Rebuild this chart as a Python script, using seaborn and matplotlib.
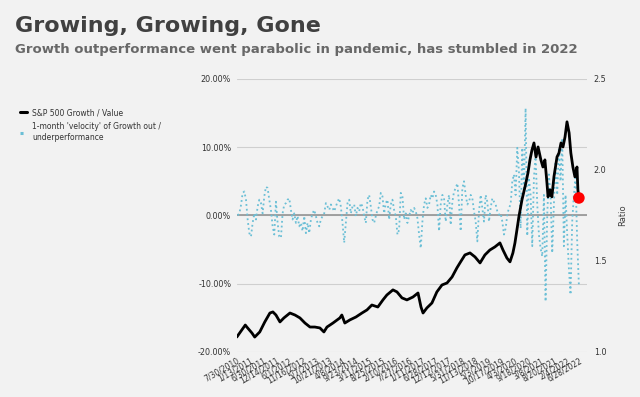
import matplotlib
matplotlib.use("Agg")
import matplotlib.pyplot as plt
import numpy as np
import pandas as pd
import seaborn as sns
from matplotlib.lines import Line2D
from matplotlib.ticker import FormatStrFormatter, PercentFormatter


TITLE = "Growing, Growing, Gone"
SUBTITLE = "Growth outperformance went parabolic in pandemic, has stumbled in 2022"

RATIO_LABEL = "S&P 500 Growth / Value"
VELOCITY_LABEL = "1-month 'velocity' of Growth out /\nunderperformance"

# Growth / Value ratio
ratio_dates = [
    "2010-07-30", "2010-11-15", "2010-12-05", "2011-02-08", "2011-03-15",
    "2011-05-18", "2011-07-21", "2011-09-24", "2011-11-01", "2011-12-10",
    "2012-01-30", "2012-03-20", "2012-06-05", "2012-08-08", "2012-10-10",
    "2012-12-13", "2013-02-15", "2013-04-18", "2013-06-21", "2013-08-11",
    "2013-09-19", "2013-12-04", "2014-03-02", "2014-03-27", "2014-05-04",
    "2014-07-07", "2014-09-22", "2014-12-08", "2015-02-10", "2015-04-13",
    "2015-06-28", "2015-09-01", "2015-10-21", "2016-01-06", "2016-02-26",
    "2016-04-30", "2016-07-02", "2016-09-17", "2016-11-20", "2016-12-28",
    "2017-01-23", "2017-03-13", "2017-05-16", "2017-07-18", "2017-09-21",
    "2017-11-24", "2018-01-27", "2018-03-30", "2018-05-07", "2018-07-10",
    "2018-09-12", "2018-11-15", "2019-01-18", "2019-03-21", "2019-05-23",
    "2019-07-26", "2019-09-28", "2019-11-06", "2019-12-26", "2020-02-03",
    "2020-03-11", "2020-04-06", "2020-05-01", "2020-05-26", "2020-07-04",
    "2020-08-12", "2020-09-19", "2020-10-14", "2020-11-09", "2020-12-04",
    "2020-12-30", "2021-01-25", "2021-03-02", "2021-03-28", "2021-04-22",
    "2021-05-18", "2021-06-01", "2021-06-25", "2021-07-20", "2021-08-15",
    "2021-09-23", "2021-10-18", "2021-11-13", "2021-12-08", "2022-01-03",
    "2022-01-28", "2022-02-24", "2022-03-18", "2022-04-13", "2022-05-09",
    "2022-06-04", "2022-06-16", "2022-06-28",
]
ratio_values = [
    1.082, 1.148, 1.137, 1.104, 1.082,
    1.110, 1.165, 1.214, 1.220, 1.203,
    1.165, 1.187, 1.214, 1.203, 1.187,
    1.159, 1.137, 1.137, 1.132, 1.110,
    1.137, 1.159, 1.187, 1.203, 1.159,
    1.176, 1.192, 1.214, 1.231, 1.258,
    1.247, 1.286, 1.313, 1.341, 1.330,
    1.297, 1.286, 1.302, 1.324, 1.247,
    1.214, 1.242, 1.269, 1.330, 1.368,
    1.379, 1.412, 1.462, 1.489, 1.533,
    1.544, 1.522, 1.489, 1.533, 1.560,
    1.577, 1.599, 1.560, 1.516, 1.495,
    1.544, 1.599, 1.670, 1.742, 1.835,
    1.907, 1.984, 2.055, 2.110, 2.148,
    2.071, 2.126, 2.055, 2.016, 2.055,
    1.929, 1.852, 1.890, 1.852, 1.962,
    2.071, 2.093, 2.148, 2.126, 2.181,
    2.264, 2.203, 2.093, 2.016, 1.962,
    2.016, 1.890, 1.846,
]

# 1-month velocity (%), read at evenly spaced points between the two dates
velocity_start = "2010-08-10"
velocity_end = "2022-06-28"
velocity_values = [
    0.0, 0.3, 1.5, 3.3, 3.5, 2.3, -0.6, -2.6, -3.1, -1.1,
    0.3, -0.6, 1.3, 2.3, 1.8, 0.3, 2.8, 4.2, 4.0, 2.3,
    0.8, -1.6, -2.8, 2.0, -1.1, -3.1, -3.3, 0.3, 1.6, 1.8,
    2.3, 2.5, 0.8, -0.6, 0.3, -1.1, -0.1, -1.6, -1.1, -2.3,
    -0.1, -2.6, -1.1, -2.6, -0.6, 0.3, 0.8, -0.1, -1.1, -1.6,
    -0.6, -0.1, 0.3, 1.8, 1.3, 0.8, 1.6, 1.1, 0.6, 1.3,
    2.0, 2.5, 1.3, -1.1, -4.0, -1.1, 1.8, 2.3, 0.3, 1.3,
    1.6, -0.1, 1.1, 0.6, 1.8, 1.3, -0.1, -1.1, 2.3, 3.0,
    1.3, -0.6, -1.1, -0.1, 0.8, 1.3, 3.3, 2.8, 0.3, 1.8,
    2.3, -0.6, 1.6, 2.3, 0.8, -0.1, -2.8, -2.1, 3.3, 2.8,
    -0.6, 0.3, -1.1, -0.1, 0.8, 0.3,
    1.1, 0.6, -0.4, -2.8, -4.8, -0.9, 1.6, 2.5, 1.1, 1.6,
    3.0, 2.5, 3.5, 3.0, 1.6, -2.3, 1.6, 3.0, 2.5, -0.9,
    1.6, 3.0, -1.4, 2.0, 3.5, 4.0, 4.7, 1.6, -2.3, 4.0,
    5.0, 3.0, 1.6, 2.0, 3.0, 2.5, 0.6, -0.9, -3.8, 0.6,
    3.0, 1.1, -0.9, 3.0, 2.0, -0.9, 1.1, 2.5, 2.0, 1.6,
    0.6, 0.1, 0.3, -0.9, -2.8, -1.9, 0.1, 1.1, 1.6, 5.0,
    6.0, 3.0, 9.9, 6.4, -1.9, 9.9, 4.0, 15.7, -3.0, 5.5,
    3.0, -4.5, 5.5, 8.9, 1.6, -2.8, -4.8, -6.0, 3.0, -12.6,
    0.1, 6.0, 3.0, -5.5, 1.6, 7.9, 3.0, 9.9, 5.0, 11.3,
    -4.5, 3.0, -2.8, -7.7, -11.6, -0.9, 3.0, 5.5, -3.8, -10.1,
]

tick_labels = [
    "7/30/2010", "1/13/2011", "6/30/2011", "12/14/2011", "6/1/2012",
    "11/16/2012", "5/7/2013", "10/21/2013", "4/8/2014", "9/23/2014",
    "3/11/2015", "8/25/2015", "2/10/2016", "7/27/2016", "1/11/2017",
    "6/28/2017", "12/12/2017", "5/31/2018", "11/13/2018", "5/3/2019",
    "10/17/2019", "4/3/2020", "9/18/2020", "3/8/2021", "8/20/2021",
    "2/4/2022", "6/28/2022",
]

BACKGROUND = "#f2f2f2"
TEXT_DARK = "#404040"
TEXT_SUB = "#686868"
VELOCITY_COLOR = "#6bbfd6"


def build_frames() -> tuple[pd.DataFrame, pd.DataFrame]:
    """
    Put the read values into small data frames.
    """
    ratio_df = pd.DataFrame(
        {"date": pd.to_datetime(ratio_dates), "ratio": ratio_values}
    )
    velocity_df = pd.DataFrame(
        {
            "date": pd.date_range(
                velocity_start, velocity_end, periods=len(velocity_values)
            ),
            "velocity": velocity_values,
        }
    )
    return ratio_df, velocity_df


def draw_chart(ratio_df: pd.DataFrame, velocity_df: pd.DataFrame) -> None:
    sns.set_theme(style="white")
    plt.rcParams["font.family"] = ["DejaVu Sans"]
    plt.rcParams["axes.unicode_minus"] = False

    fig = plt.figure(figsize=(6.4, 3.97), dpi=100, facecolor=BACKGROUND)
    ax = fig.add_axes([0.370, 0.1134, 0.547, 0.688], facecolor=BACKGROUND)

    sns.lineplot(
        data=velocity_df, x="date", y="velocity", ax=ax,
        color=VELOCITY_COLOR, linestyle=":", linewidth=1.3,
    )
    ax.axhline(0, color="#9a9a9a", linewidth=1.3, zorder=1)
    ax.set_ylim(-20, 20)
    ax.set_yticks([-20, -10, 0, 10, 20])
    ax.yaxis.set_major_formatter(PercentFormatter(100, decimals=2))
    ax.yaxis.grid(True, color="#cfcfcf", linewidth=0.8)
    ax.set_axisbelow(True)

    ax2 = ax.twinx()
    sns.lineplot(
        data=ratio_df, x="date", y="ratio", ax=ax2,
        color="black", linewidth=2.0,
    )
    last = ratio_df.iloc[[-1]]
    sns.scatterplot(
        data=last, x="date", y="ratio", ax=ax2,
        color="red", s=70, edgecolor="none", zorder=5,
    )
    ax2.set_ylim(1.0, 2.5)
    ax2.set_yticks([1.0, 1.5, 2.0, 2.5])
    ax2.yaxis.set_major_formatter(FormatStrFormatter("%.1f"))
    ax2.set_ylabel("Ratio", fontsize=6, color=TEXT_DARK, labelpad=8)

    tick_dates = pd.to_datetime(tick_labels, format="%m/%d/%Y")
    ax.set_xlim(pd.Timestamp("2010-07-30"), pd.Timestamp("2022-10-08"))
    ax.set_xticks(tick_dates)
    ax.set_xticklabels(
        tick_labels, rotation=30, ha="right", rotation_mode="anchor",
        fontsize=5.5, color="#333333",
    )
    ax.set_xlabel("")
    ax.set_ylabel("")

    for axis in (ax, ax2):
        for spine in axis.spines.values():
            spine.set_visible(False)
    ax.tick_params(axis="y", length=0, pad=4, labelsize=5.8, labelcolor="#333333")
    ax.tick_params(axis="x", length=0, pad=3)
    ax2.tick_params(axis="y", length=0, pad=5, labelsize=5.8, labelcolor="#333333")

    handles = [
        Line2D([], [], color="black", linewidth=2.2),
        Line2D([], [], color=VELOCITY_COLOR, linestyle=":", linewidth=2.2),
    ]
    fig.legend(
        handles, [RATIO_LABEL, VELOCITY_LABEL],
        loc="upper left", bbox_to_anchor=(0.02, 0.745),
        frameon=False, fontsize=5.5, handlelength=1.0, handletextpad=0.6,
        labelspacing=0.7, labelcolor="#333333",
    )

    fig.text(0.023, 0.919, TITLE, fontsize=16, fontweight="bold",
             color=TEXT_DARK, va="baseline")
    fig.text(0.023, 0.866, SUBTITLE, fontsize=9.5, fontweight="bold",
             color=TEXT_SUB, va="baseline")

    fig.savefig("out.png", dpi=100, facecolor=BACKGROUND)
    plt.close(fig)


if __name__ == "__main__":
    ratio_df, velocity_df = build_frames()
    draw_chart(ratio_df, velocity_df)
